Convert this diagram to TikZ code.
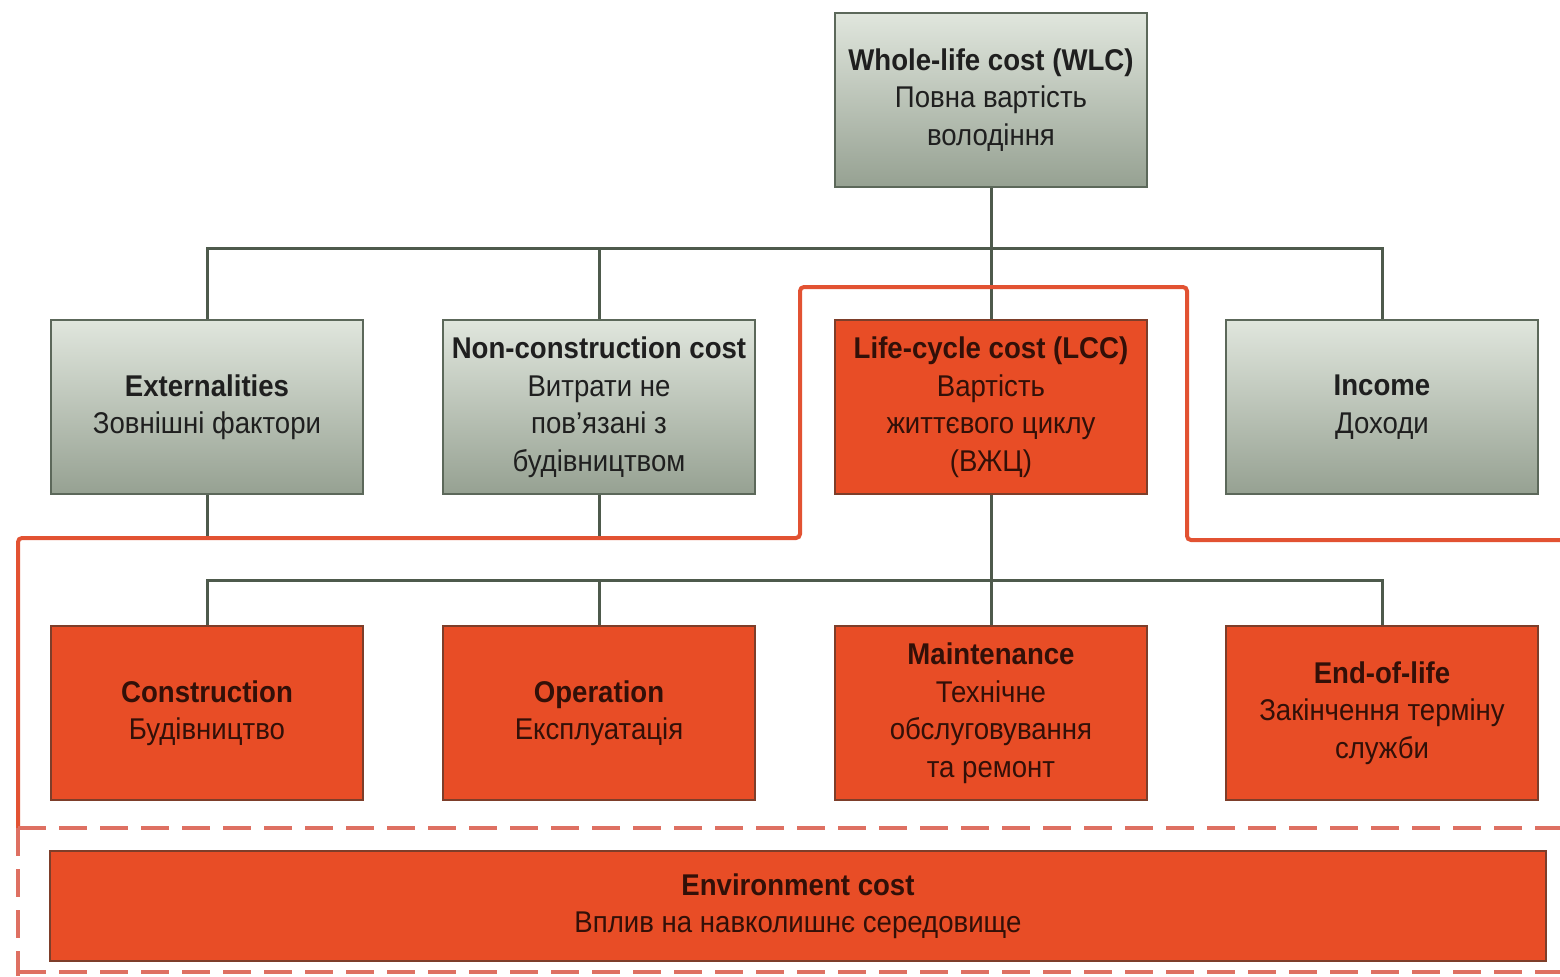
\documentclass[tikz,border=0pt]{standalone}
\usepackage{fontspec}
\setmainfont{Liberation Sans}[FakeStretch=0.92]
\usepackage{tikz}
\definecolor{boxred}{RGB}{232,77,38}
\definecolor{boxredline}{RGB}{125,62,42}
\definecolor{redtext}{RGB}{50,16,8}
\definecolor{graytop}{RGB}{224,230,221}
\definecolor{graybot}{RGB}{150,161,146}
\definecolor{grayline}{RGB}{92,104,90}
\definecolor{linkcol}{RGB}{78,90,76}
\definecolor{frame}{RGB}{226,82,50}
\definecolor{dashcol}{RGB}{222,112,98}
\tikzstyle{cost} = [draw, line width=1pt, minimum width=156pt, minimum height=87pt, align=center, font={\fontsize{15}{18.75}\selectfont}]
\tikzstyle{whole} = [cost, draw=grayline, top color=graytop, bottom color=graybot, text=black!88]
\tikzstyle{life} = [cost, draw=boxredline, fill=boxred, text=redtext]
\tikzstyle{link} = [draw=linkcol, line width=1.5pt]
\tikzstyle{lccframe} = [draw=frame, line width=2pt, rounded corners=2pt]
\tikzstyle{envframe} = [draw=dashcol, line width=2pt, dash pattern=on 14pt off 6.5pt]

\begin{document}
\begin{tikzpicture}[x=0.5pt,y=-0.5pt]
    \useasboundingbox (0,0) rectangle (1560,976);
    \node[whole](wlc) at (991,100){\textbf{Whole-life cost (WLC)}\\Повна вартість\\володіння};
    \node[whole](ext) at (207,407){\textbf{Externalities}\\Зовнішні фактори};
    \node[whole](ncc) at (599,407){\textbf{Non-construction cost}\\Витрати не\\пов'язані з\\будівництвом};
    \node[life](lcc) at (991,407){\textbf{Life-cycle cost (LCC)}\\Вартість\\життєвого циклу\\(ВЖЦ)};
    \node[whole](inc) at (1382,407){\textbf{Income}\\Доходи};
    \node[life](con) at (207,713){\textbf{Construction}\\Будівництво};
    \node[life](ope) at (599,713){\textbf{Operation}\\Експлуатація};
    \node[life](mai) at (991,713){\textbf{Maintenance}\\Технічне\\обслуговування\\та ремонт};
    \node[life](eol) at (1382,713){\textbf{End-of-life}\\Закінчення терміну\\служби};
    \node[life, minimum width=748pt, minimum height=55pt](env) at (798,906){\textbf{Environment cost}\\Вплив на навколишнє середовище};
    % tree lines
    \coordinate (bus) at (991,248);
    \coordinate (bus2) at (991,580);
    \coordinate (edge) at (18,538);
    \draw[link](wlc)--(bus);
    \draw[link](bus)-|(ext);
    \draw[link](bus)-|(ncc);
    \draw[link](bus)--(lcc);
    \draw[link](bus)-|(inc);
    \draw[link](ext)--(ext.south |- edge);
    \draw[link](ncc)--(ncc.south |- edge);
    \draw[link](lcc)--(bus2);
    \draw[link](bus2)-|(con);
    \draw[link](bus2)-|(ope);
    \draw[link](bus2)--(mai);
    \draw[link](bus2)-|(eol);
    % LCC boundary
    \draw[lccframe](1560,540)--(1187,540)--(1187,287)--(800,287)--(800,538)--(edge)--(18,828);
    \draw[envframe](18,828)--(1560,828);
    \draw[envframe](18,828)--(18,976);
    \draw[envframe](18,972)--(1560,972);
  \end{tikzpicture}
\end{document}
